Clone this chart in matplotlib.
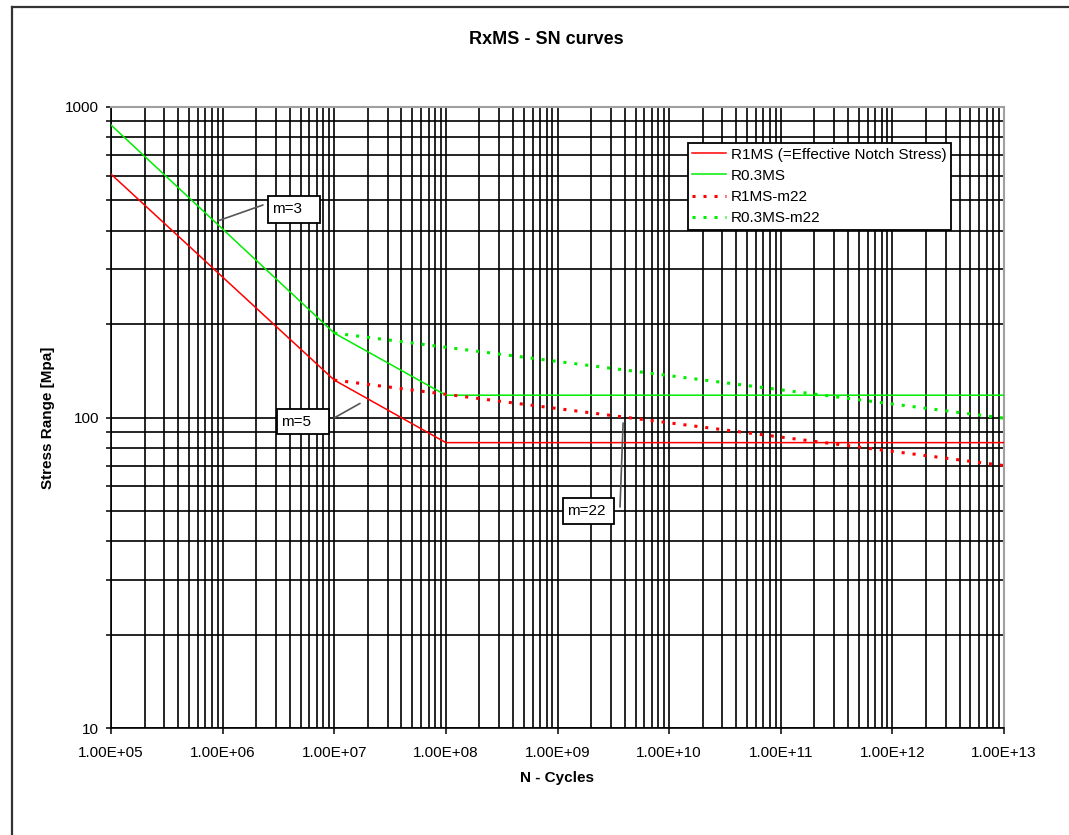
import numpy as np
import matplotlib
matplotlib.use("Agg")
import matplotlib.pyplot as plt
from matplotlib.ticker import LogLocator, NullFormatter
from matplotlib.lines import Line2D
from matplotlib.patches import Rectangle

plt.rcParams['font.family'] = ['Liberation Sans', 'DejaVu Sans']

# S-N curve break points (cycles, stress range)
n_cycles = [1e5, 1e7, 1e8, 1e13]
r1ms = [608, 132, 83, 83]
r03ms = [875, 187, 118, 118]

# m=22 continuation beyond 1e7
n_m22 = [1e7, 1e13]
r1ms_m22 = [132, 70]
r03ms_m22 = [187, 99.5]

x_ticks = [1e5, 1e6, 1e7, 1e8, 1e9, 1e10, 1e11, 1e12, 1e13]
x_ticklabels = ['1.00E+05', '1.00E+06', '1.00E+07', '1.00E+08', '1.00E+09',
                '1.00E+10', '1.00E+11', '1.00E+12', '1.00E+13']
y_ticks = [10, 100, 1000]
y_ticklabels = ['10', '100', '1000']

RED = '#ff0000'
GREEN = '#00ee00'

fig = plt.figure(figsize=(10.69, 8.35), dpi=100)
ax = fig.add_axes([111 / 1069, 1 - 728 / 835, 893 / 1069, 621 / 835])

ax.plot(n_cycles, r1ms, color=RED, lw=1.1, label='R1MS (=Effective Notch Stress)', zorder=4)
ax.plot(n_cycles, r03ms, color=GREEN, lw=1.1, label='R0.3MS', zorder=4)
ax.plot(n_m22, r1ms_m22, color=RED, lw=2.2, ls=(0, (1, 2.6)), label='R1MS-m22', zorder=4)
ax.plot(n_m22, r03ms_m22, color=GREEN, lw=2.2, ls=(0, (1, 2.6)), label='R0.3MS-m22', zorder=4)

ax.set_xscale('log')
ax.set_yscale('log')
ax.set_xlim(1e5, 1e13)
ax.set_ylim(10, 1000)

ax.set_xticks(x_ticks)
ax.set_xticklabels(x_ticklabels)
ax.set_yticks(y_ticks)
ax.set_yticklabels(y_ticklabels)
ax.xaxis.set_minor_locator(LogLocator(base=10, subs=np.arange(2, 10), numticks=100))
ax.yaxis.set_minor_locator(LogLocator(base=10, subs=np.arange(2, 10), numticks=100))
ax.xaxis.set_minor_formatter(NullFormatter())
ax.yaxis.set_minor_formatter(NullFormatter())

ax.tick_params(axis='x', which='major', direction='out', length=4, width=1.1, pad=9, labelsize=11)
ax.tick_params(axis='x', which='minor', length=0)
ax.tick_params(axis='y', which='both', direction='out', length=3.5, width=1.1, pad=5, labelsize=11)

ax.grid(True, which='both', color='black', lw=1.2)

for side in ['left', 'bottom']:
    ax.spines[side].set_color('black')
    ax.spines[side].set_linewidth(1.2)
for side in ['top', 'right']:
    ax.spines[side].set_color('#a0a0a0')
    ax.spines[side].set_linewidth(1.5)

ax.set_xlabel('N - Cycles', fontsize=11, fontweight='bold')
ax.xaxis.set_label_coords(0.5, -0.0805)
ax.xaxis.label.set_va('center')
ax.set_ylabel('Stress Range [Mpa]', fontsize=11, fontweight='bold')
ax.yaxis.set_label_coords(-0.070, 0.5)
ax.yaxis.label.set_va('center')

fig.text(546 / 1069, 1 - 40 / 835, 'RxMS - SN curves', fontsize=13, fontweight='bold',
         ha='center', va='center')

leg = ax.legend(loc='upper left', bbox_to_anchor=(0.646, 0.942), fontsize=11,
                handlelength=2.2, handletextpad=0.3, labelspacing=0.47,
                borderpad=0.3, borderaxespad=0, fancybox=False, framealpha=1,
                edgecolor='black')
leg.get_frame().set_linewidth(1.3)
leg.set_zorder(6)

# slope annotations: (text, box x0, x1, y0, y1, leader start, leader end in data)
notes = [
    ('m=3', 0.1758, 0.2340, 0.8132, 0.8567, (0.1702, 0.8422), (9.1e5, 430)),
    ('m=5', 0.1859, 0.2441, 0.4734, 0.5137, (0.2497, 0.4992), (1.7e7, 111)),
    ('m=22', 0.5062, 0.5633, 0.3285, 0.3704, (0.5700, 0.3559), (3.87e9, 96)),
]
for label, x0, x1, y0, y1, start, end in notes:
    ax.add_patch(Rectangle((x0, y0), x1 - x0, y1 - y0, transform=ax.transAxes,
                           facecolor='white', edgecolor='black', lw=1.3, zorder=6))
    ax.text(x0 + 0.004, (y0 + y1) / 2, label, transform=ax.transAxes, fontsize=11,
            ha='left', va='center', zorder=7)
    ax.annotate('', xy=end, xycoords='data', xytext=start, textcoords='axes fraction',
                arrowprops=dict(arrowstyle='-', color='#555555', lw=1.2,
                                shrinkA=0, shrinkB=0), zorder=5)

# outer chart frame
fig.add_artist(Line2D([12 / 1069, 12 / 1069], [0, 1 - 7 / 835], color='#333333', lw=1.6))
fig.add_artist(Line2D([12 / 1069, 1], [1 - 7 / 835, 1 - 7 / 835], color='#333333', lw=1.6))

fig.savefig('out.png', dpi=100)
